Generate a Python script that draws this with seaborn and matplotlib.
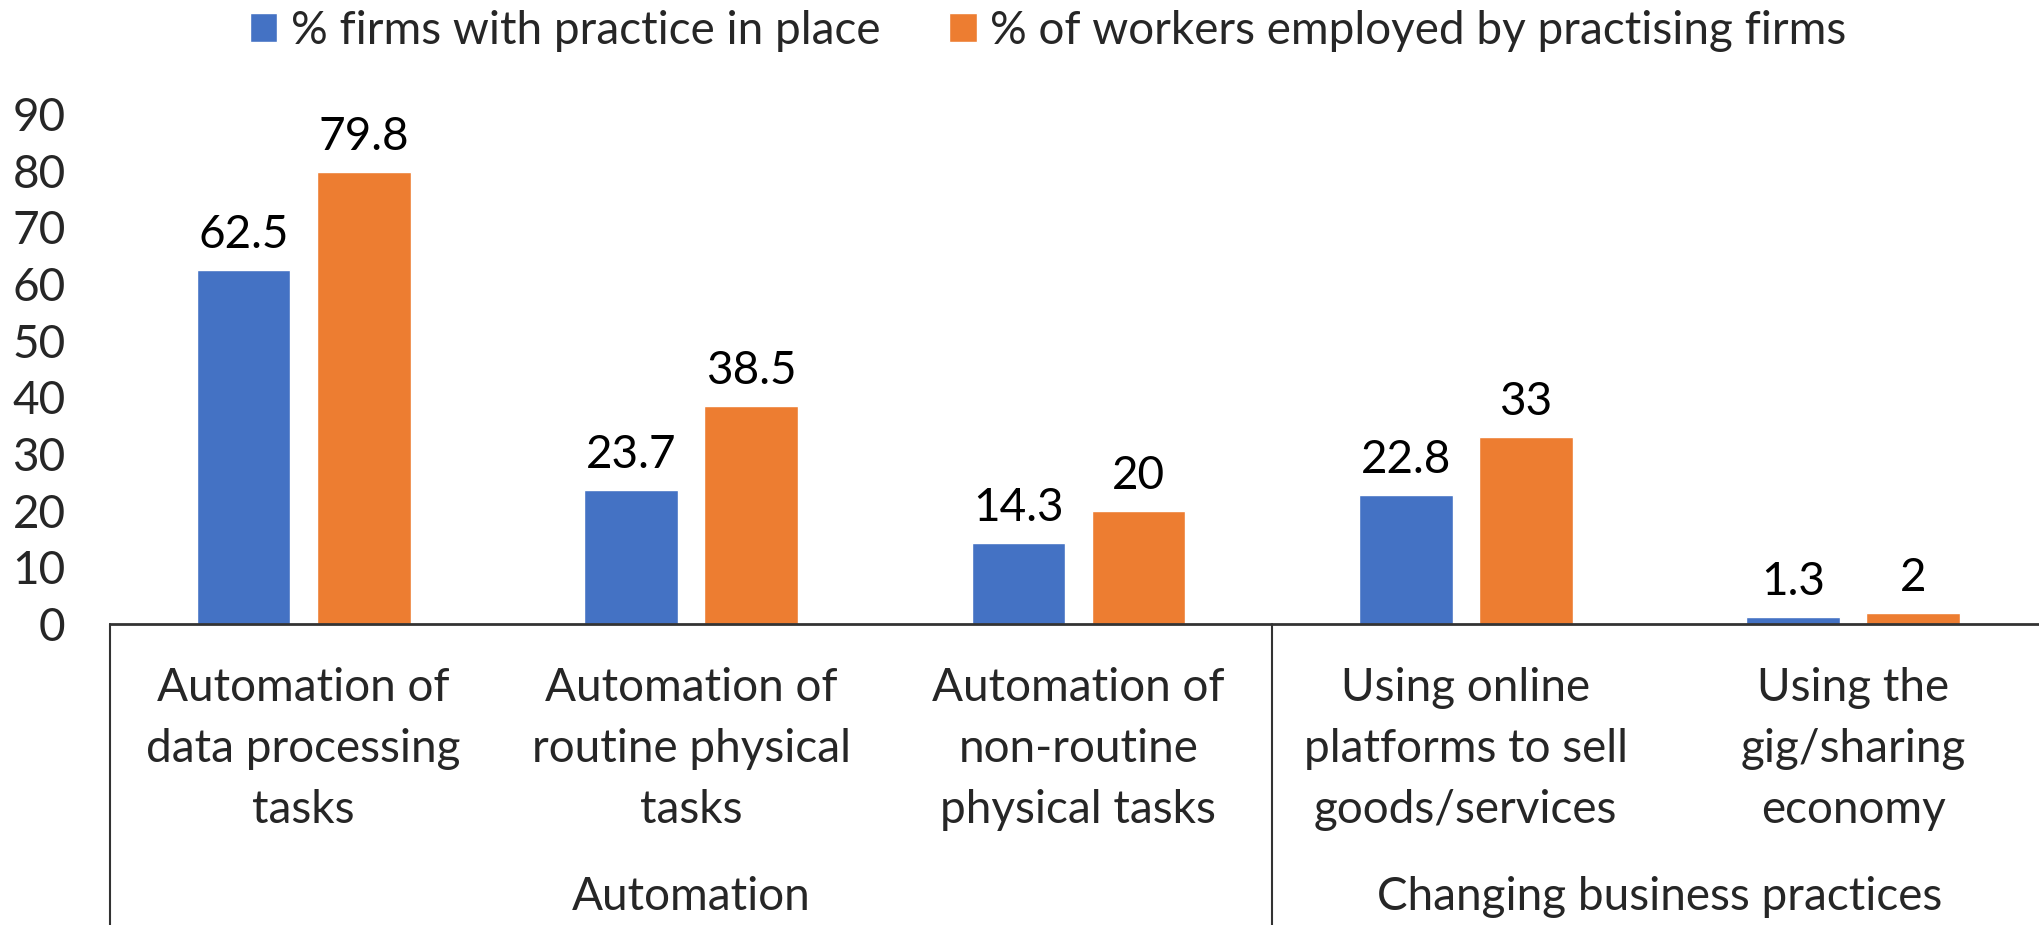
import matplotlib
matplotlib.use("Agg")
import matplotlib.pyplot as plt
import seaborn as sns
import pandas as pd

categories = [
    "Automation of\ndata processing\ntasks",
    "Automation of\nroutine physical\ntasks",
    "Automation of\nnon-routine\nphysical tasks",
    "Using online\nplatforms to sell\ngoods/services",
    "Using the\ngig/sharing\neconomy",
]
groups = ["Automation", "Changing business practices"]
group_spans = [(0, 2), (3, 4)]
series_names = ["% firms with practice in place", "% of workers employed by practising firms"]
firms = [62.5, 23.7, 14.3, 22.8, 1.3]
workers = [79.8, 38.5, 20, 33, 2]
value_labels_firms = ["62.5", "23.7", "14.3", "22.8", "1.3"]
value_labels_workers = ["79.8", "38.5", "20", "33", "2"]
yticks = [0, 10, 20, 30, 40, 50, 60, 70, 80, 90]
colors = ["#4472C4", "#ED7D31"]

df = pd.DataFrame({
    "category": categories * 2,
    "series": [series_names[0]] * 5 + [series_names[1]] * 5,
    "value": firms + workers,
})

sns.set_theme(style="white")
plt.rcParams["font.family"] = ["Lato", "DejaVu Sans"]
FS = 33

fig = plt.figure(figsize=(20.39, 9.25), dpi=100)
W, H = 2039, 925
left, right = 110 / W, 1.0
bottom, top = 1 - 624 / H, 1 - 114 / H
ax = fig.add_axes([left, bottom, right - left, top - bottom])

sns.barplot(data=df, x="category", y="value", hue="series", order=categories,
            hue_order=series_names, palette=colors, width=0.62, gap=0.22,
            saturation=1, ax=ax, legend=True)

for cont, labs in zip(ax.containers, [value_labels_firms, value_labels_workers]):
    ax.bar_label(cont, labels=labs, padding=10, fontsize=FS, color="black")

ax.set_ylim(0, 90)
ax.set_xlim(-0.5, 4.48)
ax.set_yticks(yticks)
ax.set_yticklabels([str(t) for t in yticks], fontsize=FS)
ax.tick_params(axis="y", left=False, pad=26, labelsize=FS)
ax.set_xticks(range(len(categories)))
ax.set_xticklabels(categories, fontsize=FS, linespacing=1.56, va="top")
ax.tick_params(axis="x", bottom=False, pad=25)
ax.set_xlabel("")
ax.set_ylabel("")
for s in ["top", "right", "left"]:
    ax.spines[s].set_visible(False)
ax.spines["bottom"].set_color("#333333")
ax.spines["bottom"].set_linewidth(2)

trans = ax.get_xaxis_transform()
# vertical separators below axis
for xpos in [-0.5, 2.5]:
    ax.plot([xpos, xpos], [0, -0.6], transform=trans, color="#333333",
            lw=1.5, clip_on=False)
# group labels
for g, (a, b) in zip(groups, group_spans):
    ax.text((a + b) / 2, -(897 - 624) / (624 - 114), g, transform=trans,
            ha="center", va="center", fontsize=FS)

leg = ax.legend(loc="center", bbox_to_anchor=(0.514, 1 - 31 / H),
                bbox_transform=fig.transFigure, ncol=2, frameon=False,
                fontsize=FS, handlelength=0.6, handleheight=0.6,
                handletextpad=0.3, columnspacing=1.5)

fig.savefig("out.png", dpi=100)
